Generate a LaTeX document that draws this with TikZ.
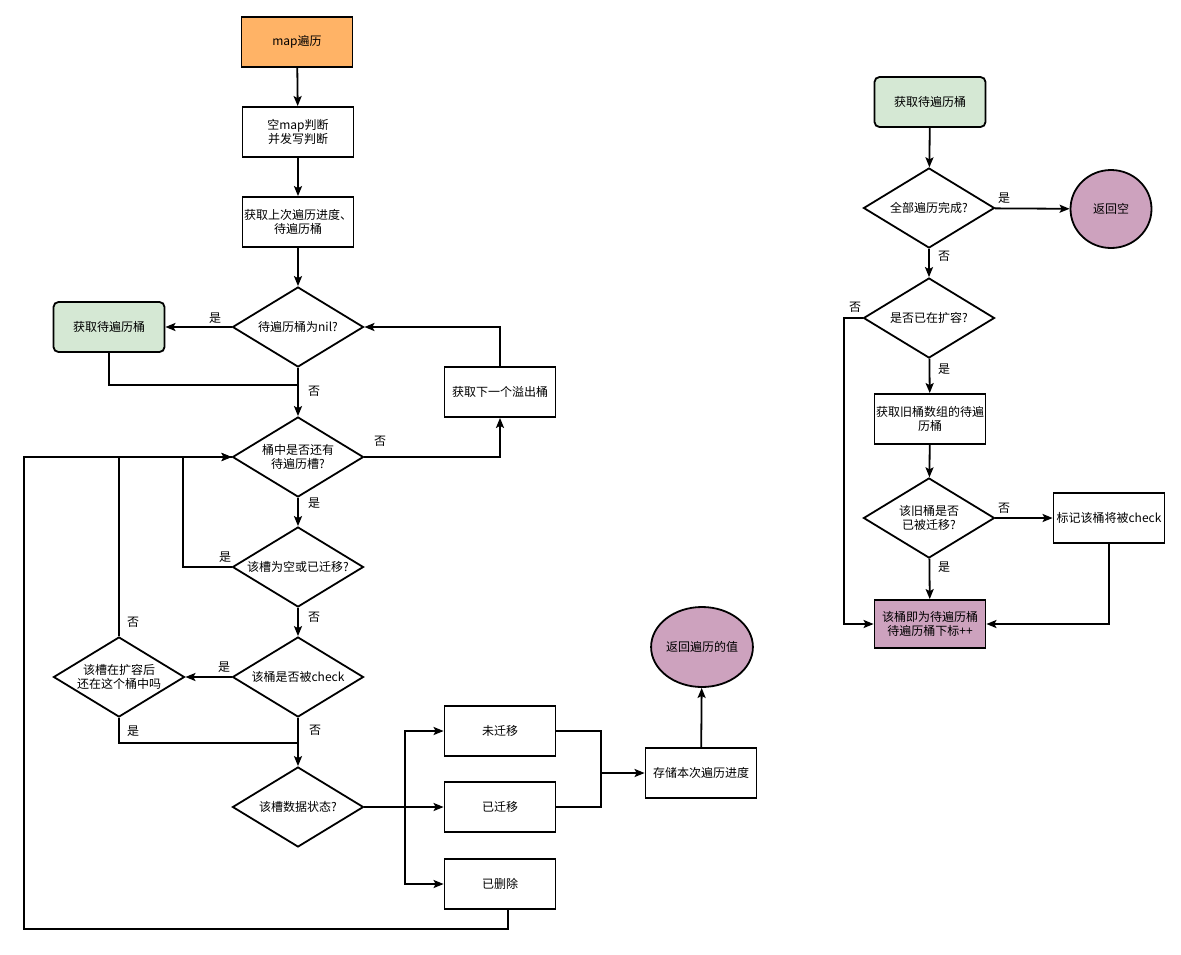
\documentclass[tikz,border=0pt]{standalone}
\usepackage{fontspec}
\setmainfont{Noto Sans CJK SC}
\usepackage{tikz}
\usetikzlibrary{shapes.geometric,arrows.meta}
\definecolor{orangeF}{HTML}{FFB366}
\definecolor{greenF}{HTML}{D5E8D4}
\definecolor{purpleF}{HTML}{CDA2BE}

\begin{document}
\begin{tikzpicture}[x=1pt, y=-1pt, every node/.style={font=\fontsize{12}{14.5}\selectfont}, every label/.style={align=center},
	box/.style={draw, line width=1.8pt, minimum width=111pt, minimum height=50pt, align=center, inner sep=1pt},
	greenbox/.style={box, fill=greenF, rounded corners=5pt},
	decision/.style={diamond, draw, line width=1.8pt, minimum width=131pt, minimum height=80pt, inner sep=0pt},
	terminal/.style={ellipse, draw, line width=1.8pt, fill=purpleF, minimum width=81pt, minimum height=80pt, inner sep=0pt},
	arr/.style={line width=1.8pt, -{Stealth[length=10pt, width=8pt, inset=2pt]}},
	line/.style={line width=1.8pt},
	lbl/.style={inner sep=1pt}]
	\useasboundingbox (0,0) rectangle (1181,954);
	\node[box, fill=orangeF] (start) at (297,42) {map遍历};
	\node[box] (empty) at (298,132) {空map判断\\并发写判断};
	\node[box] (last) at (298,222) {获取上次遍历进度、\\待遍历桶};
	\node[decision, label=center:{待遍历桶为nil?}] (nil) at (298,327) {};
	\node[greenbox] (getA) at (109,327) {获取待遍历桶};
	\node[box] (overflow) at (500,392) {获取下一个溢出桶};
	\node[decision, label=center:{桶中是否还有\\待遍历槽?}] (slot) at (298,457) {};
	\node[decision, label=center:{该槽为空或已迁移?}] (empt) at (298,567) {};
	\node[decision, label=center:{该桶是否被check}] (check) at (298,677) {};
	\node[decision, label=center:{该槽在扩容后\\还在这个桶中吗}] (inbk) at (119,677) {};
	\node[decision, label=center:{该槽数据状态?}] (state) at (298,807) {};
	\node[box] (mig0) at (500,731) {未迁移};
	\node[box] (mig1) at (500,807) {已迁移};
	\node[box] (del) at (500,884) {已删除};
	\node[box] (save) at (701,773) {存储本次遍历进度};
	\node[terminal] (ret) at (702,647) {返回遍历的值};
	\node[greenbox] (getB) at (930,102) {获取待遍历桶};
	\node[decision, label=center:{全部遍历完成?}] (done) at (929,208) {};
	\node[terminal, minimum height=78pt] (none) at (1111,209) {返回空};
	\node[decision, label=center:{是否已在扩容?}] (grow) at (929,318) {};
	\node[box] (old) at (930,419) {获取旧桶数组的待遍\\历桶};
	\node[decision, label=center:{该旧桶是否\\已被迁移?}] (moved) at (929,518) {};
	\node[box] (mark) at (1109,518) {标记该桶将被check};
	\node[box, fill=purpleF, minimum height=48pt] (cur) at (930,624) {该桶即为待遍历桶\\待遍历桶下标++};
	\coordinate (j1) at (298,385);
	\coordinate (j2) at (298,743);
	\coordinate (fork) at (405,807);
	\coordinate (merge) at (601,773);
	\coordinate (lp) at (24,929);
	\draw[arr] (start) -- (empty);
	\draw[arr] (empty) -- (last);
	\draw[arr] (last) -- (nil);
	\draw[arr] (nil) -- (getA);
	\draw[arr] (nil) -- (slot);
	\draw[line] (getA.south) |- (j1);
	\draw[arr] (slot.east) -| (overflow.south);
	\draw[arr] (overflow.north) |- (nil.east);
	\draw[arr] (slot) -- (empt);
	\draw[arr] (empt.west) -- ++(-49,0) |- (slot.west);
	\draw[arr] (empt) -- (check);
	\draw[arr] (check) -- (inbk);
	\draw[line] (inbk.north) |- (slot.west);
	\draw[line] (inbk.south) |- (j2);
	\draw[arr] (check) -- (state);
	\draw[arr] (state) -- (mig1);
	\draw[arr] (fork) |- (mig0.west);
	\draw[arr] (fork) |- (del.west);
	\draw[line] (mig0.east) -| (merge);
	\draw[line] (mig1.east) -| (merge);
	\draw[arr] (merge) -- (save.west);
	\draw[arr] (save) -- (ret);
	\draw[arr] ([xshift=8pt]del.south) |- (lp) |- (slot.west);
	\draw[arr] (getB) -- (done);
	\draw[arr] (done) -- (none);
	\draw[arr] (done) -- (grow);
	\draw[arr] (grow) -- (old);
	\draw[arr] (grow.west) -- ++(-19,0) |- (cur.west);
	\draw[arr] (old) -- (moved);
	\draw[arr] (moved) -- (mark);
	\draw[arr] (moved) -- (cur);
	\draw[arr] (mark.south) |- (cur.east);
	\node[lbl] (l1) at (215,318) {是};
	\node[lbl] (l2) at (314,391) {否};
	\node[lbl] (l3) at (380,441) {否};
	\node[lbl] (l4) at (314,503) {是};
	\node[lbl] (l5) at (225,557) {是};
	\node[lbl] (l6) at (314,617) {否};
	\node[lbl] (l7) at (224,667) {是};
	\node[lbl] (l8) at (133,622) {否};
	\node[lbl] (l9) at (133,731) {是};
	\node[lbl] (l10) at (315,730) {否};
	\node[lbl] (r1) at (1004,198) {是};
	\node[lbl] (r2) at (944,256) {否};
	\node[lbl] (r3) at (855,307) {否};
	\node[lbl] (r4) at (944,369) {是};
	\node[lbl] (r5) at (1004,508) {否};
	\node[lbl] (r6) at (944,567) {是};
\end{tikzpicture}
\end{document}
